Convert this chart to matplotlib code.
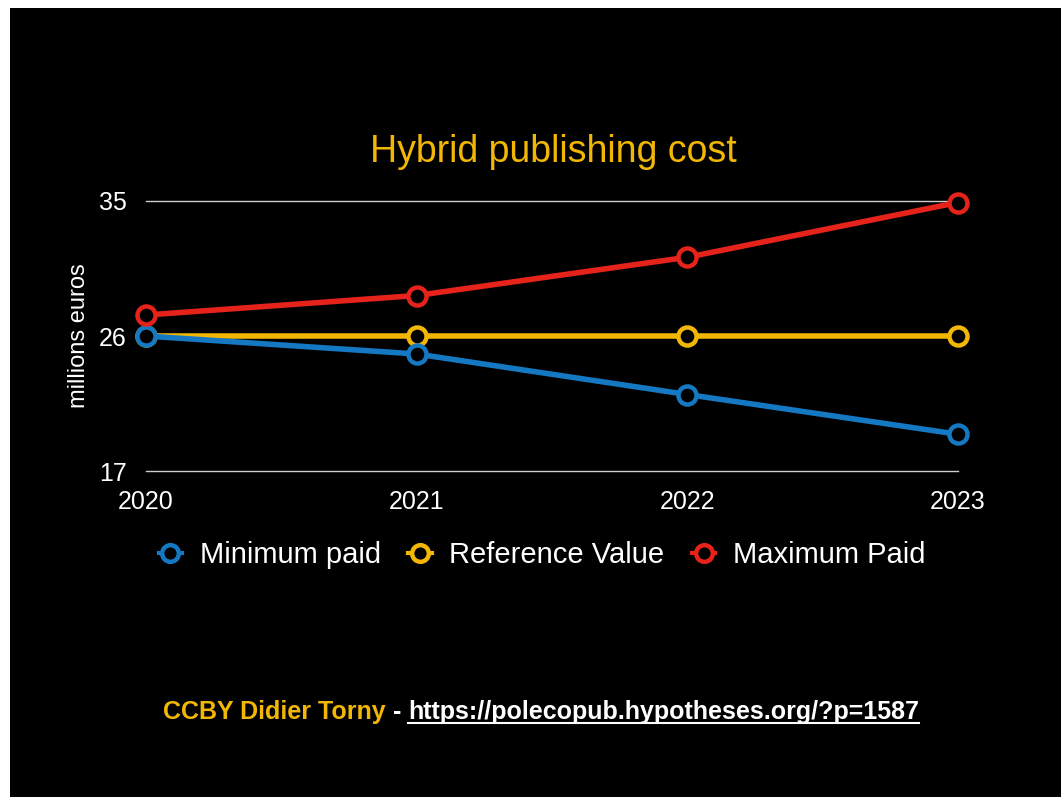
import matplotlib
matplotlib.use("Agg")
import matplotlib.pyplot as plt
from matplotlib.patches import Rectangle
from matplotlib.lines import Line2D

plt.rcParams['font.family'] = ['Liberation Sans', 'DejaVu Sans']

# data
years = [2020, 2021, 2022, 2023]
minimum_paid = [26.0, 24.8, 22.1, 19.45]
reference_value = [26.0, 26.0, 26.0, 26.0]
maximum_paid = [27.4, 28.7, 31.25, 34.9]
y_ticks = [17, 26, 35]

blue = '#1479C2'
yellow = '#F2B705'
red = '#E5231B'

W, H = 1061, 797
fig = plt.figure(figsize=(W / 100, H / 100), dpi=100)
fig.patch.set_facecolor('white')
# black slide background
fig.patches.append(Rectangle((10 / W, 0), 1, (H - 8) / H, transform=fig.transFigure,
                             facecolor='black', edgecolor='none', zorder=-10))

ax = fig.add_axes([146 / W, 1 - 471 / H, (958 - 146) / W, (471 - 201) / H])
ax.set_facecolor('black')

# reference line first so the blue marker sits on top at 2020
lines = {}
for vals, col, lab in [(reference_value, yellow, 'Reference Value'),
                       (minimum_paid, blue, 'Minimum paid'),
                       (maximum_paid, red, 'Maximum Paid')]:
    ln, = ax.plot(years, vals, color=col, lw=4, marker='o', ms=13, mfc='black',
                  mec=col, mew=3.2, label=lab, clip_on=False, zorder=3)
    lines[lab] = ln

ax.set_xlim(2020, 2023)
ax.set_ylim(17, 35)
ax.set_xticks(years)
ax.set_yticks(y_ticks)
ax.tick_params(colors='white', labelsize=18, length=0, pad=13.5)
ax.tick_params(axis='y', pad=14)
for lbl in ax.get_xticklabels() + ax.get_yticklabels():
    lbl.set_color('white')
ax.grid(axis='y', color='#cccccc', lw=1)
for gl in ax.get_ygridlines():
    gl.set_clip_on(False)
ax.set_axisbelow(True)
for s in ax.spines.values():
    s.set_visible(False)
ax.set_ylabel('millions euros', color='white', fontsize=17, labelpad=6)

fig.text(553 / W, 1 - 152 / H, 'Hybrid publishing cost', color=yellow,
         fontsize=27, ha='center', va='center')

order = ['Minimum paid', 'Reference Value', 'Maximum Paid']
leg = fig.legend([lines[k] for k in order], order, loc='center',
                 bbox_to_anchor=(542 / W, 1 - 555 / H), ncol=3,
                 frameon=False, fontsize=21, handlelength=0.8, handletextpad=0.6,
                 columnspacing=0.95, labelcolor='white')
for h in leg.legend_handles:
    h.set_markersize(12)
    h.set_linewidth(3)

# footer credit with underlined url
fs = 18
t1 = fig.text(163 / W, 1 - 712 / H, 'CCBY Didier Torny', color=yellow,
              fontsize=fs, fontweight='bold', ha='left', va='center')
fig.canvas.draw()
r = fig.canvas.get_renderer()
bb1 = t1.get_window_extent(r)
t2 = fig.text(bb1.x1 / W, 1 - 712 / H, ' - ', color='white', fontsize=fs,
              fontweight='bold', ha='left', va='center')
bb2 = t2.get_window_extent(r)
t3 = fig.text(bb2.x1 / W, 1 - 712 / H, 'https://polecopub.hypotheses.org/?p=1587',
              color='white', fontsize=fs, fontweight='bold', ha='left', va='center')
bb3 = t3.get_window_extent(r)
fig.lines.append(Line2D([bb3.x0 / W, bb3.x1 / W], [(bb3.y0 + 1) / H, (bb3.y0 + 1) / H],
                        transform=fig.transFigure, color='white', lw=1.5))

fig.savefig('out.png', dpi=100, facecolor=fig.get_facecolor())
